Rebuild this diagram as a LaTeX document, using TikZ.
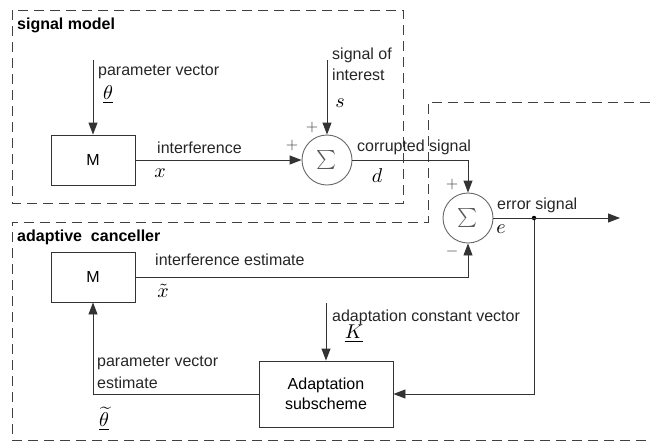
\documentclass[tikz,border=0pt]{standalone}
\usepackage{fontspec}
\setmainfont{Liberation Sans}
\usetikzlibrary{arrows.meta}
\tikzset{
  ln/.style={draw=black!80, line width=0.9pt},
  arr/.style={ln, -{Triangle[length=12pt,width=9pt]}},
  blk/.style={ln, rectangle, inner sep=0pt, align=center, font=\fontsize{16}{20}\selectfont},
  sumnode/.style={draw=black!60, line width=0.9pt, circle, minimum size=50pt, inner sep=0pt},
  sigma/.style={inner sep=0pt, scale=1.9, text=black!65},
  lbl/.style={anchor=west, inner sep=0pt, font=\fontsize{16}{19}\selectfont, text=black!85},
  sym/.style={inner sep=0pt, scale=2.0},
  sgn/.style={inner sep=0pt, scale=1.6, text=black!75},
  ttl/.style={anchor=west, inner sep=0pt, font=\fontsize{16}{19}\selectfont\bfseries},
  dashbox/.style={draw=black!75, line width=0.9pt, dash pattern=on 10pt off 6pt},
  dotnode/.style={circle, fill=black, inner sep=0pt, minimum size=4.5pt}
}
\begin{document}
\begin{tikzpicture}[x=1pt, y=-1pt]
\useasboundingbox (0,0) rectangle (650,445);
% dashed group outlines
\draw[dashbox] (12,10) rectangle (403,203);
\draw[dashbox] (650,102) -- (428,102) -- (428,222) -- (12,222) -- (12,440) -- (650,440);
\node[ttl] (t1) at (17,25) {signal model};
\node[ttl] (t2) at (17,237) {adaptive\ \ canceller};
% blocks
\node[blk, minimum width=84pt, minimum height=50pt] (M1) at (93,160) {M};
\node[blk, minimum width=84pt, minimum height=50pt] (M2) at (93,277) {M};
\node[blk, minimum width=134pt, minimum height=66pt] (AD) at (326,394) {Adaptation\\subscheme};
\node[sumnode] (S1) at (327,160) {};
\node[sumnode] (S2) at (468,218) {};
\node[sigma] (S1t) at (S1.center) {$\sum$};
\node[sigma] (S2t) at (S2.center) {$\sum$};
% free ends
\coordinate (pin) at (93,60);
\coordinate (sin) at (327,60);
\coordinate (kin) at (326,303);
\coordinate (out) at (620,218);
\node[dotnode] (dot) at (534,218) {};
% connectors
\draw[arr] (pin) -- (M1.north);
\draw[arr] (sin) -- (S1.north);
\draw[arr] (M1.east) -- (S1.west);
\draw[arr] (S1.east) -| (S2.north);
\draw[arr] (S2.east) -- (out);
\draw[arr] (dot) |- (AD.east);
\draw[arr] (M2.east) -| (S2.south);
\draw[arr] (kin) -- (AD.north);
\draw[arr] (AD.west) -| (M2.south);
% labels
\node[lbl] (l1) at (98,72) {parameter vector};
\node[sym] (l1s) at (108,95) {$\underline{\theta}$};
\node[lbl] (l2) at (157,148) {interference};
\node[sym] (l2s) at (160,173) {$x$};
\node[lbl] (l3) at (332,55) {signal of};
\node[lbl] (l3b) at (332,75) {interest};
\node[sym] (l3s) at (340,103) {$s$};
\node[sgn] (p1) at (312,127) {$+$};
\node[sgn] (p2) at (292,145) {$+$};
\node[lbl] (l4) at (357,147) {corrupted signal};
\node[sym] (l4s) at (377,176) {$d$};
\node[sgn] (p3) at (452,184) {$+$};
\node[sgn] (m1) at (452,251) {$-$};
\node[lbl] (l5) at (497,205) {error signal};
\node[sym] (l5s) at (501,229) {$e$};
\node[lbl] (l6) at (155,260) {interference estimate};
\node[sym] (l6s) at (163,291) {$\tilde{x}$};
\node[lbl] (l7) at (332,317) {adaptation constant vector};
\node[sym] (l7s) at (354,334) {$\underline{K}$};
\node[lbl] (l8) at (97,363) {parameter vector};
\node[lbl] (l8b) at (97,383) {estimate};
\node[sym] (l8s) at (104,419) {$\underline{\widetilde{\theta}}$};
\end{tikzpicture}
\end{document}
